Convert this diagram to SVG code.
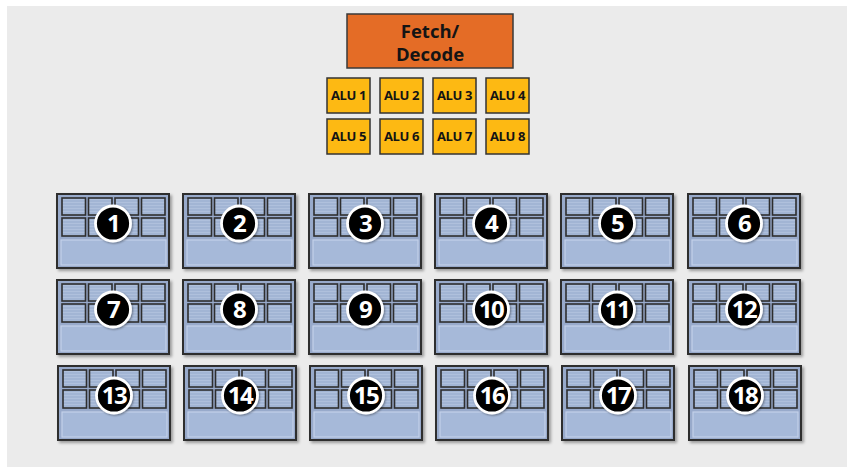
<svg xmlns="http://www.w3.org/2000/svg" xmlns:xlink="http://www.w3.org/1999/xlink" width="847" height="467" viewBox="0 0 847 467">
  <style>
    .bg { fill: #ebebeb; }
    .fd { fill: #e46c26; stroke: #3a3a3a; stroke-width: 1.5; }
    .alu { fill: #fdb913; stroke: #333333; stroke-width: 1.5; }
    .lbl { font-family: "Open Sans", "Liberation Sans", sans-serif; font-weight: bold; fill: #141414; text-anchor: middle; }
    .fdt { font-size: 18.5px; }
    .alut { font-size: 13px; letter-spacing: -0.4px; }
    .num { font-family: "Open Sans", "Liberation Sans", sans-serif; font-weight: bold; font-size: 24px; fill: #ffffff; text-anchor: middle; letter-spacing: -1.5px; }
    .badge { fill: #000000; stroke: #ffffff; stroke-width: 2.8; }
  </style>
  <defs>
    <pattern id="stripes" width="4" height="3" patternUnits="userSpaceOnUse">
      <rect width="4" height="3" fill="#a2b5d4"/>
      <rect y="2" width="4" height="1" fill="#afc0dc"/>
    </pattern>
    <filter id="shadow" x="-10%" y="-10%" width="125%" height="130%">
      <feGaussianBlur in="SourceAlpha" stdDeviation="1.5"/>
      <feOffset dx="1.5" dy="1.5"/>
      <feComponentTransfer><feFuncA type="linear" slope="0.35"/></feComponentTransfer>
      <feMerge><feMergeNode/><feMergeNode in="SourceGraphic"/></feMerge>
    </filter>
    <filter id="glow" x="-30%" y="-30%" width="160%" height="160%">
      <feGaussianBlur in="SourceAlpha" stdDeviation="1.2"/>
      <feOffset dx="0.5" dy="1"/>
      <feComponentTransfer><feFuncA type="linear" slope="0.4"/></feComponentTransfer>
      <feMerge><feMergeNode/><feMergeNode in="SourceGraphic"/></feMerge>
    </filter>
    <!-- one core: eight register cells above a shared-memory panel -->
    <g id="core">
      <rect x="0" y="0" width="112" height="74" fill="#98aacb" stroke="#2e2e2e" stroke-width="2" filter="url(#shadow)"/>
      <g fill="url(#stripes)" stroke="#2e2e2e" stroke-width="1.6">
        <rect x="5" y="4" width="23.5" height="17"/>
        <rect x="31.5" y="4" width="23.5" height="17"/>
        <rect x="58" y="4" width="23.5" height="17"/>
        <rect x="84.5" y="4" width="23.5" height="17"/>
        <rect x="5" y="24" width="23.5" height="18"/>
        <rect x="31.5" y="24" width="23.5" height="18"/>
        <rect x="58" y="24" width="23.5" height="18"/>
        <rect x="84.5" y="24" width="23.5" height="18"/>
      </g>
      <rect x="4" y="46" width="105" height="25" fill="#a6b9d9" stroke="#c3d1ea" stroke-width="1.2"/>
    </g>
    <!-- numbered badge, placed by each core -->
    <circle id="badge" class="badge" cx="56" cy="29.5" r="17.5" filter="url(#glow)"/>
  </defs>

  <rect class="bg" x="7" y="6" width="840" height="461"/>

  <g id="fetch-decode">
    <rect class="fd" x="347" y="14" width="166" height="54"/>
    <text class="lbl fdt" x="430" y="38">Fetch/</text>
    <text class="lbl fdt" x="430" y="61">Decode</text>
  </g>

  <g id="alu1"><rect class="alu" x="327" y="78" width="43" height="35"/><text class="lbl alut" x="348.5" y="100">ALU 1</text></g>
  <g id="alu2"><rect class="alu" x="380" y="78" width="43" height="35"/><text class="lbl alut" x="401.5" y="100">ALU 2</text></g>
  <g id="alu3"><rect class="alu" x="433" y="78" width="43" height="35"/><text class="lbl alut" x="454.5" y="100">ALU 3</text></g>
  <g id="alu4"><rect class="alu" x="486" y="78" width="43" height="35"/><text class="lbl alut" x="507.5" y="100">ALU 4</text></g>
  <g id="alu5"><rect class="alu" x="327" y="119" width="43" height="35"/><text class="lbl alut" x="348.5" y="141">ALU 5</text></g>
  <g id="alu6"><rect class="alu" x="380" y="119" width="43" height="35"/><text class="lbl alut" x="401.5" y="141">ALU 6</text></g>
  <g id="alu7"><rect class="alu" x="433" y="119" width="43" height="35"/><text class="lbl alut" x="454.5" y="141">ALU 7</text></g>
  <g id="alu8"><rect class="alu" x="486" y="119" width="43" height="35"/><text class="lbl alut" x="507.5" y="141">ALU 8</text></g>

  <g id="connectors"></g>

  <!-- row 1 -->
  <g id="core1" transform="translate(57,194)"><use xlink:href="#core"/><use xlink:href="#badge"/><text class="num" x="56" y="38">1</text></g>
  <g id="core2" transform="translate(183,194)"><use xlink:href="#core"/><use xlink:href="#badge"/><text class="num" x="56" y="38">2</text></g>
  <g id="core3" transform="translate(309,194)"><use xlink:href="#core"/><use xlink:href="#badge"/><text class="num" x="56" y="38">3</text></g>
  <g id="core4" transform="translate(435,194)"><use xlink:href="#core"/><use xlink:href="#badge"/><text class="num" x="56" y="38">4</text></g>
  <g id="core5" transform="translate(561,194)"><use xlink:href="#core"/><use xlink:href="#badge"/><text class="num" x="56" y="38">5</text></g>
  <g id="core6" transform="translate(688,194)"><use xlink:href="#core"/><use xlink:href="#badge"/><text class="num" x="56" y="38">6</text></g>
  <!-- row 2 -->
  <g id="core7" transform="translate(57,280)"><use xlink:href="#core"/><use xlink:href="#badge"/><text class="num" x="56" y="38">7</text></g>
  <g id="core8" transform="translate(183,280)"><use xlink:href="#core"/><use xlink:href="#badge"/><text class="num" x="56" y="38">8</text></g>
  <g id="core9" transform="translate(309,280)"><use xlink:href="#core"/><use xlink:href="#badge"/><text class="num" x="56" y="38">9</text></g>
  <g id="core10" transform="translate(435,280)"><use xlink:href="#core"/><use xlink:href="#badge"/><text class="num" x="56" y="38">10</text></g>
  <g id="core11" transform="translate(561,280)"><use xlink:href="#core"/><use xlink:href="#badge"/><text class="num" x="56" y="38">11</text></g>
  <g id="core12" transform="translate(688,280)"><use xlink:href="#core"/><use xlink:href="#badge"/><text class="num" x="56" y="38">12</text></g>
  <!-- row 3 -->
  <g id="core13" transform="translate(58,366)"><use xlink:href="#core"/><use xlink:href="#badge"/><text class="num" x="56" y="38">13</text></g>
  <g id="core14" transform="translate(184,366)"><use xlink:href="#core"/><use xlink:href="#badge"/><text class="num" x="56" y="38">14</text></g>
  <g id="core15" transform="translate(310,366)"><use xlink:href="#core"/><use xlink:href="#badge"/><text class="num" x="56" y="38">15</text></g>
  <g id="core16" transform="translate(436,366)"><use xlink:href="#core"/><use xlink:href="#badge"/><text class="num" x="56" y="38">16</text></g>
  <g id="core17" transform="translate(562,366)"><use xlink:href="#core"/><use xlink:href="#badge"/><text class="num" x="56" y="38">17</text></g>
  <g id="core18" transform="translate(689,366)"><use xlink:href="#core"/><use xlink:href="#badge"/><text class="num" x="56" y="38">18</text></g>
</svg>
